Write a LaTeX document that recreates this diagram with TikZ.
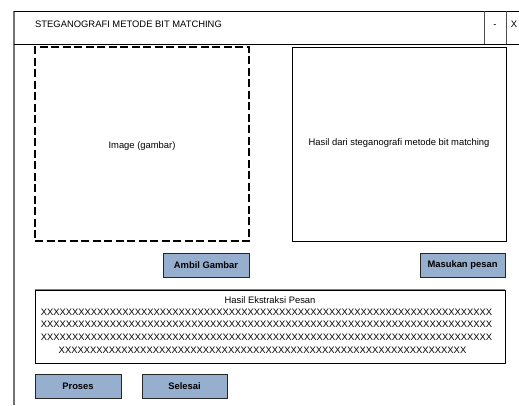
\documentclass[tikz,border=0pt]{standalone}
\usepackage{fontspec}
\setmainfont{Liberation Sans}
\begin{document}
\begin{tikzpicture}[x=1pt,y=-1pt,
  every node/.style={font=\fontsize{9.4}{11}\selectfont, inner sep=0pt},
  btn/.style={draw=black!85, fill=btnblue, line width=0.8pt, minimum width=86pt, minimum height=24pt, font=\fontsize{9.4}{11}\selectfont\bfseries},
  panel/.style={draw=black, line width=0.8pt},
]
\definecolor{btnblue}{HTML}{97AFCF}
\useasboundingbox (0,0) rectangle (519,405);
% window frame
\draw[black!55, line width=1.2pt] (14,11) -- (14,405);
\draw[black, line width=0.8pt] (14,11) -- (519,11);
\draw[black, line width=0.8pt] (14,44) -- (519,44);
\draw[black!70, line width=0.8pt] (484,11) -- (484,44);
\draw[black!70, line width=0.8pt] (506,11) -- (506,44);
\node[anchor=base west] (title) at (35,27.4) {STEGANOGRAFI METODE BIT MATCHING};
\node[anchor=base] (min) at (495,27.4) {-};
\node[anchor=base] (close) at (514,27.4) {X};
% image panel
\node[draw=black, line width=1.8pt, dash pattern=on 8pt off 3.5pt, minimum width=214pt, minimum height=194pt] (img) at (142,144) {};
\node (imgtxt) at (142,146) {Image (gambar)};
% result panel
\node[panel, minimum width=214pt, minimum height=194pt] (res) at (399,144) {};
\node (restxt) at (399,143) {Hasil dari steganografi metode bit matching};
% buttons
\node[btn] (ambil) at (206,265) {Ambil Gambar};
\node[btn, minimum width=85pt] (masuk) at (462.5,265) {Masukan pesan};
% message box
\node[panel, minimum width=470pt, minimum height=73pt] (msg) at (270,326.5) {};
\draw[black!50, line width=0.9pt] (msg.north west) -- (msg.north east);
\node (msghead) at (270,300) {Hasil Ekstraksi Pesan};
\node (row1) at (266.5,312) {XXXXXXXXXXXXXXXXXXXXXXXXXXXXXXXXXXXXXXXXXXXXXXXXXXXXXXXXXXXXXXXXXXXXXXXX};
\node (row2) at (266.5,324.5) {XXXXXXXXXXXXXXXXXXXXXXXXXXXXXXXXXXXXXXXXXXXXXXXXXXXXXXXXXXXXXXXXXXXXXXXX};
\node (row3) at (266.5,337) {XXXXXXXXXXXXXXXXXXXXXXXXXXXXXXXXXXXXXXXXXXXXXXXXXXXXXXXXXXXXXXXXXXXXXXXX};
\node (row4) at (262.5,350) {XXXXXXXXXXXXXXXXXXXXXXXXXXXXXXXXXXXXXXXXXXXXXXXXXXXXXXXXXXXXXXXXX};
% bottom buttons
\node[btn] (proses) at (78,386) {Proses};
\node[btn, minimum width=85pt] (selesai) at (184.5,386) {Selesai};
\end{tikzpicture}
\end{document}
